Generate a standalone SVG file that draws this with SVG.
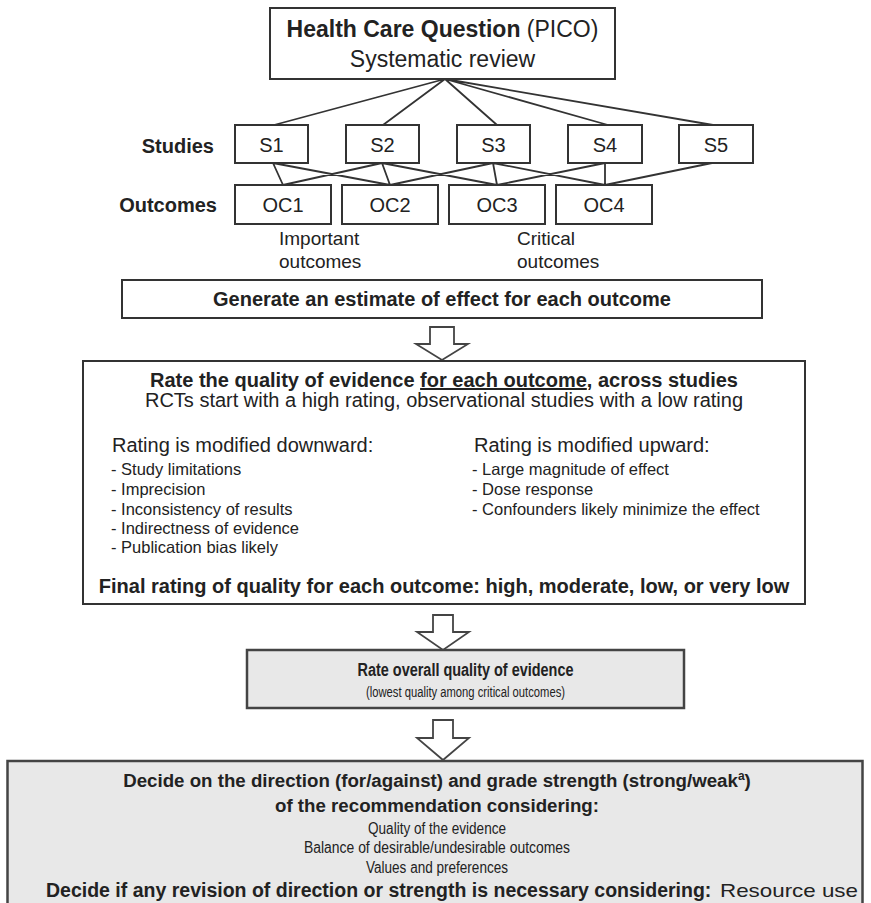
<svg xmlns="http://www.w3.org/2000/svg" width="871" height="903" viewBox="0 0 871 903">
<style>
text{font-family:"Liberation Sans",Arial,sans-serif;fill:#222}
.b{font-weight:bold}
.box{fill:#fff;stroke:#333;stroke-width:2}
.gbox{fill:#e8e8e8;stroke:#444;stroke-width:2.5}
.ln{stroke:#333;stroke-width:1.8;fill:none}
.arr{fill:#fff;stroke:#444;stroke-width:1.8;stroke-linejoin:miter}
.c{text-anchor:middle}
</style>
<rect width="871" height="903" fill="#fff"/>
<g id="connectors">
<path class="ln" d="M445,79 L274,125 M445,79 L383,125 M445,79 L497,125 M445,79 L608,125 M445,79 L713,125"/>
<path class="ln" d="M273,163 L283,185 M273,163 L390,185 M382,163 L283,185 M382,163 L390,185 M382,163 L497,185 M493,163 L390,185 M493,163 L497,185 M493,163 L605,185 M605,163 L497,185 M605,163 L605,185 M712,163 L605,185"/>
<path class="arr" d="M430,327 H454 V344 H468 L442,360 L416,344 H430 Z"/>
<path class="arr" d="M433,615 H453 V632 H469 L443,650 L417,632 H433 Z"/>
<path class="arr" d="M433,720 H453 V738 H469 L443,760 L417,738 H433 Z"/>
</g>
<g id="question">
<rect class="box" x="270" y="8" width="345" height="71"/>
<text x="442.5" y="37" class="c" font-size="23"><tspan class="b">Health Care Question</tspan> (PICO)</text>
<text x="442.5" y="67" class="c" font-size="23">Systematic review</text>
</g>
<g id="labels">
<text x="214" y="153" font-size="20" class="b" text-anchor="end">Studies</text>
<text x="217" y="212" font-size="20" class="b" text-anchor="end">Outcomes</text>
<text x="279" y="245" font-size="19">Important</text>
<text x="279" y="268" font-size="19">outcomes</text>
<text x="517" y="245" font-size="19">Critical</text>
<text x="517" y="268" font-size="19">outcomes</text>
</g>
<g id="S1"><rect class="box" x="235" y="125" width="73" height="38"/><text x="271.5" y="152" class="c" font-size="20">S1</text></g>
<g id="S2"><rect class="box" x="346" y="125" width="73" height="38"/><text x="382.5" y="152" class="c" font-size="20">S2</text></g>
<g id="S3"><rect class="box" x="457" y="125" width="73" height="38"/><text x="493.5" y="152" class="c" font-size="20">S3</text></g>
<g id="S4"><rect class="box" x="568" y="125" width="74" height="38"/><text x="605" y="152" class="c" font-size="20">S4</text></g>
<g id="S5"><rect class="box" x="679" y="125" width="74" height="38"/><text x="716" y="152" class="c" font-size="20">S5</text></g>
<g id="OC1"><rect class="box" x="235" y="185" width="96" height="39"/><text x="283" y="212" class="c" font-size="20">OC1</text></g>
<g id="OC2"><rect class="box" x="342" y="185" width="96" height="39"/><text x="390" y="212" class="c" font-size="20">OC2</text></g>
<g id="OC3"><rect class="box" x="449" y="185" width="96" height="39"/><text x="497" y="212" class="c" font-size="20">OC3</text></g>
<g id="OC4"><rect class="box" x="556" y="185" width="96" height="39"/><text x="604" y="212" class="c" font-size="20">OC4</text></g>
<g id="estimate">
<rect class="box" x="122" y="280" width="640" height="38"/>
<text x="442" y="306" class="c b" font-size="20">Generate an estimate of effect for each outcome</text>
</g>
<g id="rate-quality">
<rect class="box" x="83" y="361" width="722" height="243"/>
<text x="444" y="387" class="c b" font-size="20">Rate the quality of evidence <tspan text-decoration="underline">for each outcome</tspan>, across studies</text>
<text x="444" y="407" class="c" font-size="20">RCTs start with a high rating, observational studies with a low rating</text>
<text x="112" y="452" font-size="20">Rating is modified downward:</text>
<text x="111" y="475" font-size="16.5">- Study limitations</text>
<text x="111" y="495" font-size="16.5">- Imprecision</text>
<text x="111" y="515" font-size="16.5">- Inconsistency of results</text>
<text x="111" y="534" font-size="16.5">- Indirectness of evidence</text>
<text x="111" y="553" font-size="16.5">- Publication bias likely</text>
<text x="474" y="452" font-size="20">Rating is modified upward:</text>
<text x="472" y="475" font-size="16.5">- Large magnitude of effect</text>
<text x="472" y="495" font-size="16.5">- Dose response</text>
<text x="472" y="515" font-size="16.5">- Confounders likely minimize the effect</text>
<text x="444" y="593" class="c b" font-size="20">Final rating of quality for each outcome: high, moderate, low, or very low</text>
</g>
<g id="overall">
<rect class="gbox" x="247" y="650" width="437" height="58"/>
<text x="465.5" y="676" class="c b" font-size="18" textLength="216" lengthAdjust="spacingAndGlyphs">Rate overall quality of evidence</text>
<text x="465.5" y="697" class="c" font-size="14" textLength="199" lengthAdjust="spacingAndGlyphs">(lowest quality among critical outcomes)</text>
</g>
<g id="decide">
<rect class="gbox" x="7.5" y="761" width="855" height="160"/>
<text x="437" y="787" class="c b" font-size="18.7">Decide on the direction (for/against) and grade strength (strong/weak<tspan font-size="12" dy="-7">a</tspan><tspan dy="7">)</tspan></text>
<text x="437" y="812" class="c b" font-size="18.7">of the recommendation considering:</text>
<text x="437" y="834" class="c" font-size="16" textLength="138" lengthAdjust="spacingAndGlyphs">Quality of the evidence</text>
<text x="437" y="853" class="c" font-size="16" textLength="266" lengthAdjust="spacingAndGlyphs">Balance of desirable/undesirable outcomes</text>
<text x="437" y="873" class="c" font-size="16" textLength="142" lengthAdjust="spacingAndGlyphs">Values and preferences</text>
<text x="46" y="897" font-size="19.5" class="b">Decide if any revision of direction or strength is necessary considering:</text>
<text x="720" y="897" font-size="19" textLength="138" lengthAdjust="spacingAndGlyphs">Resource use</text>
</g>
</svg>
